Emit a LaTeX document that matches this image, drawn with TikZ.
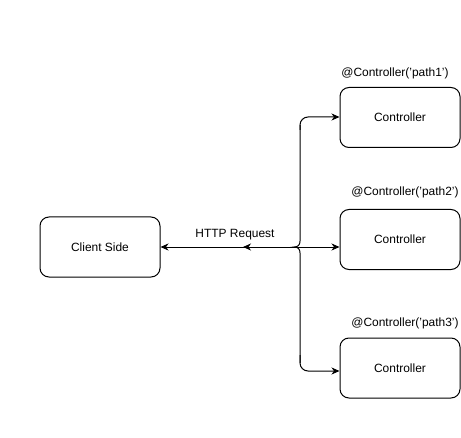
\documentclass[tikz,border=0pt]{standalone}
\usepackage{fontspec}
\setmainfont{Liberation Sans}
\usetikzlibrary{arrows.meta,calc}
\begin{document}
\begin{tikzpicture}[x=1bp,y=-1bp,
  box/.style={draw=black,line width=1bp,rounded corners=9bp,minimum width=120bp,minimum height=60bp,inner sep=0pt,font=\fontsize{12}{14}\selectfont},
  lbl/.style={inner sep=0pt,font=\fontsize{12}{14}\selectfont},
  conn/.style={draw=black,line width=1bp},
  arr/.style={conn,-{Stealth[length=8bp,width=7bp,inset=2.5bp]}}]
\useasboundingbox (0,0) rectangle (461,438);
\node[box] (client) at (100,247) {Client Side};
\node[box] (c1) at (400,117.5) {Controller};
\node[box] (c2) at (400,239.5) {Controller};
\node[box] (c3) at (400,368) {Controller};
\node[lbl] (l1) at (395,73) {@Controller('path1')};
\node[lbl] (l2) at (405,192) {@Controller('path2')};
\node[lbl] (l3) at (405,323) {@Controller('path3')};
\node[lbl] (http) at (235,235) {HTTP Request};
\coordinate (j) at (294,247);
\coordinate (mid) at (243,247);
\coordinate (t) at (300,117);
\coordinate (b) at (300,371);
% brace-shaped junction and trunk
\draw[conn] (300,125) -- (300,241) .. controls (300,245) and (298,247) .. (j)
  .. controls (298,247) and (300,249) .. (300,253) -- (300,363);
% branches
\draw[arr,rounded corners=8bp] (300,130) -- (t) -- (c1.west |- t);
\draw[arr,rounded corners=8bp] (300,355) -- (b) -- (c3.west |- b);
\draw[arr] (j) -- (c2.west |- j);
\draw[arr] (j) -- (client.east);
\draw[arr] (j) -- (mid);
\end{tikzpicture}
\end{document}
